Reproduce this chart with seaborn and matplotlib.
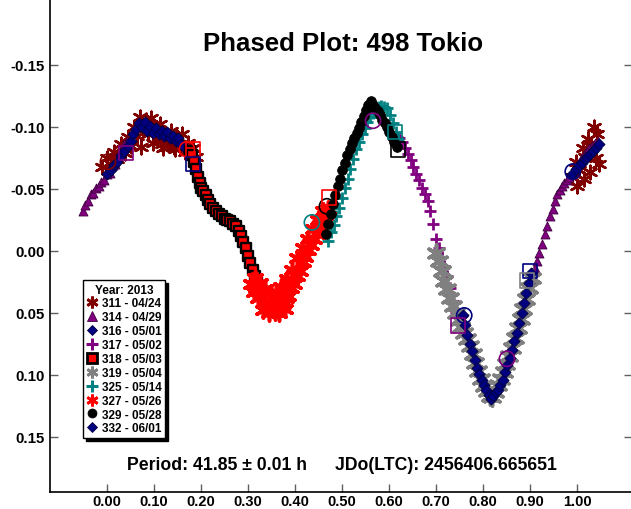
import matplotlib
matplotlib.use("Agg")
import matplotlib.pyplot as plt
import seaborn as sns
from matplotlib.lines import Line2D

sns.set_style("white")
plt.rcParams['font.family'] = ['Liberation Sans', 'DejaVu Sans']
plt.rcParams['font.weight'] = 'bold'
plt.rcParams['axes.unicode_minus'] = False
plt.rcParams['text.color'] = 'black'
plt.rcParams['xtick.color'] = 'black'
plt.rcParams['ytick.color'] = 'black'

title = "Phased Plot: 498 Tokio"
period_text = "Period: 41.85 \u00b1 0.01 h"
epoch_text = "JDo(LTC): 2456406.665651"
legend_title = "Year: 2013"
session_labels = ["311 - 04/24", "314 - 04/29", "316 - 05/01", "317 - 05/02", "318 - 05/03",
                  "319 - 05/04", "325 - 05/14", "327 - 05/26", "329 - 05/28", "332 - 06/01"]
x_ticks = [0.0, 0.1, 0.2, 0.3, 0.4, 0.5, 0.6, 0.7, 0.8, 0.9, 1.0]
y_ticks = [-0.15, -0.10, -0.05, 0.00, 0.05, 0.10, 0.15]

phase_311 = [-0.010, 0.000, 0.008, 0.015, 0.022, 0.030, 0.038, 0.045, 0.052, 0.058, 0.064, 0.070,
             0.076, 0.082, 0.088, 0.094, 0.100, 0.106, 0.112, 0.118, 0.124, 0.130, 0.136, 0.142,
             0.148, 0.154, 0.160, 0.166, 0.172, 0.178, 0.184, 0.190, 0.072, 0.098, 0.120, 0.145,
             0.990, 0.998, 1.005, 1.012, 1.018, 1.024, 1.030, 1.036, 1.042, 1.047, 1.000, 1.015,
             1.028, 1.040]
mag_311 = [-0.068, -0.075, -0.070, -0.080, -0.074, -0.086, -0.079, -0.092, -0.085, -0.100, -0.093,
           -0.108, -0.098, -0.106, -0.094, -0.107, -0.099, -0.090, -0.102, -0.086, -0.095, -0.088,
           -0.097, -0.084, -0.092, -0.086, -0.094, -0.080, -0.087, -0.078, -0.083, -0.076, -0.084,
           -0.087, -0.083, -0.082,
           -0.060, -0.072, -0.065, -0.083, -0.076, -0.090, -0.085, -0.100, -0.094, -0.070, -0.052,
           -0.058, -0.064, -0.075]

phase_314 = [-0.052, -0.046, -0.040, -0.035, -0.030, -0.024, -0.018, -0.012, -0.006, 0.000, 0.006,
             0.012, 0.018, 0.024, 0.030, 0.036, 0.042,
             0.904, 0.910, 0.915, 0.920, 0.926, 0.932, 0.937, 0.942, 0.948, 0.953, 0.958, 0.963,
             0.968, 0.973, 0.978, 0.984, 0.990, 0.996, 1.002, 1.008, 1.014, 1.020, 1.026, 1.032,
             1.038, 1.044]
mag_314 = [-0.032, -0.037, -0.040, -0.046, -0.047, -0.051, -0.052, -0.056, -0.057, -0.062, -0.063,
           -0.069, -0.070, -0.076, -0.079, -0.086, -0.089,
           0.021, 0.014, 0.008, 0.002, -0.006, -0.014, -0.020, -0.028, -0.034, -0.040, -0.046,
           -0.049, -0.052, -0.055, -0.057, -0.060, -0.063, -0.067, -0.070, -0.074, -0.077, -0.080,
           -0.083, -0.085, -0.087, -0.089]

phase_316 = [0.000, 0.008, 0.015, 0.022, 0.030, 0.037, 0.044, 0.050, 0.056, 0.062, 0.068, 0.074,
             0.080, 0.086, 0.092, 0.098, 0.104, 0.110, 0.116, 0.122, 0.128, 0.134, 0.140, 0.146,
             0.152, 0.158, 0.164,
             0.990, 0.998, 1.004, 1.010, 1.016, 1.022, 1.028, 1.034, 1.040, 1.046]
mag_316 = [-0.062, -0.065, -0.069, -0.072, -0.077, -0.081, -0.085, -0.089, -0.094, -0.098, -0.103,
           -0.100, -0.104, -0.097, -0.101, -0.095, -0.099, -0.094, -0.097, -0.093, -0.096, -0.091,
           -0.093, -0.089, -0.091, -0.086, -0.084,
           -0.062, -0.066, -0.069, -0.071, -0.074, -0.076, -0.078, -0.081, -0.083, -0.086]

phase_317 = [0.615, 0.622, 0.628, 0.634, 0.640, 0.646, 0.652, 0.658, 0.664, 0.670, 0.676, 0.682,
             0.688, 0.694, 0.700, 0.706, 0.712, 0.718, 0.724, 0.730, 0.736, 0.742]
mag_317 = [-0.093, -0.091, -0.088, -0.083, -0.078, -0.073, -0.068, -0.062, -0.057, -0.051, -0.046,
           -0.040, -0.032, -0.022, -0.010, -0.002, 0.005, 0.012, 0.020, 0.030, 0.040, 0.050]

phase_318 = [0.177, 0.181, 0.185, 0.189, 0.193, 0.197, 0.201, 0.205, 0.210, 0.215, 0.220, 0.226,
             0.232, 0.238, 0.244, 0.250, 0.256, 0.262, 0.268, 0.274, 0.280, 0.285, 0.290, 0.295,
             0.300, 0.305, 0.310, 0.315, 0.320]
mag_318 = [-0.081, -0.077, -0.072, -0.066, -0.060, -0.055, -0.051, -0.048, -0.045, -0.041, -0.038,
           -0.035, -0.032, -0.030, -0.028, -0.026, -0.025, -0.024, -0.022, -0.020, -0.016, -0.012,
           -0.007, -0.002, 0.004, 0.010, 0.015, 0.020, 0.025]

phase_319 = [0.700, 0.706, 0.712, 0.718, 0.724, 0.730, 0.736, 0.742, 0.748, 0.754, 0.760, 0.766,
             0.772, 0.778, 0.784, 0.790, 0.796, 0.802, 0.808, 0.814, 0.820, 0.826, 0.832, 0.838,
             0.844, 0.850, 0.856, 0.862, 0.868, 0.874, 0.880, 0.886, 0.892, 0.898, 0.904]
mag_319 = [0.002, 0.008, 0.016, 0.024, 0.031, 0.038, 0.044, 0.050, 0.056, 0.061, 0.066, 0.071,
           0.077, 0.083, 0.090, 0.097, 0.103, 0.109, 0.113, 0.117, 0.118, 0.114, 0.108, 0.103,
           0.098, 0.091, 0.085, 0.078, 0.070, 0.062, 0.055, 0.047, 0.039, 0.030, 0.022]

phase_325 = [0.470, 0.476, 0.482, 0.488, 0.494, 0.500, 0.506, 0.512, 0.518, 0.524, 0.530, 0.536,
             0.542, 0.548, 0.554, 0.560, 0.566, 0.572, 0.578, 0.584, 0.590, 0.596, 0.602, 0.608,
             0.614, 0.620]
mag_325 = [-0.008, -0.015, -0.021, -0.028, -0.035, -0.043, -0.051, -0.058, -0.066, -0.074, -0.082,
           -0.088, -0.094, -0.099, -0.104, -0.108, -0.111, -0.114, -0.116, -0.117, -0.116, -0.115,
           -0.110, -0.103, -0.096, -0.090]

phase_327 = [0.306, 0.312, 0.318, 0.322, 0.328, 0.333, 0.338, 0.343, 0.348, 0.353, 0.358, 0.363,
             0.368, 0.374, 0.380, 0.386, 0.392, 0.398, 0.404, 0.410, 0.416, 0.422, 0.428, 0.434,
             0.440, 0.446, 0.452, 0.458, 0.464, 0.470,
             0.314, 0.326, 0.337, 0.349, 0.360, 0.371, 0.383, 0.394, 0.405, 0.416, 0.427, 0.438,
             0.449, 0.460, 0.331, 0.345, 0.357, 0.366, 0.378]
mag_327 = [0.027, 0.033, 0.030, 0.038, 0.036, 0.042, 0.040, 0.046, 0.043, 0.047, 0.045, 0.046,
           0.042, 0.043, 0.038, 0.036, 0.030, 0.027, 0.020, 0.016, 0.009, 0.005, -0.001, -0.005,
           -0.010, -0.014, -0.019, -0.024, -0.029, -0.034,
           0.022, 0.026, 0.031, 0.034, 0.033, 0.029, 0.023, 0.015, 0.006, -0.002, -0.010, -0.018,
           -0.025, -0.032, 0.048, 0.050, 0.049, 0.050, 0.047]

phase_329 = [0.466, 0.471, 0.476, 0.481, 0.486, 0.491, 0.496, 0.501, 0.506, 0.511, 0.516, 0.521,
             0.526, 0.531, 0.536, 0.541, 0.546, 0.551, 0.556, 0.561, 0.566, 0.571, 0.576, 0.581,
             0.586, 0.591, 0.596, 0.601, 0.606, 0.611, 0.616]
mag_329 = [-0.014, -0.022, -0.030, -0.038, -0.045, -0.052, -0.058, -0.065, -0.071, -0.077, -0.082,
           -0.087, -0.091, -0.095, -0.099, -0.104, -0.109, -0.114, -0.118, -0.121, -0.118, -0.115,
           -0.113, -0.110, -0.106, -0.103, -0.100, -0.096, -0.092, -0.088, -0.084]

phase_332 = [0.757, 0.762, 0.767, 0.772, 0.777, 0.782, 0.787, 0.792, 0.797, 0.802, 0.807, 0.812,
             0.817, 0.822, 0.827, 0.832, 0.837, 0.842, 0.847, 0.852, 0.857, 0.862, 0.867, 0.872,
             0.877, 0.882, 0.887, 0.892, 0.897, 0.902]
mag_332 = [0.052, 0.060, 0.068, 0.075, 0.081, 0.088, 0.094, 0.099, 0.104, 0.108, 0.112, 0.116,
           0.119, 0.117, 0.114, 0.112, 0.108, 0.104, 0.098, 0.092, 0.086, 0.080, 0.073, 0.066,
           0.058, 0.050, 0.042, 0.034, 0.026, 0.018]

# hollow session markers
ring_phase = [0.002, 0.170, 0.436, 0.468, 0.566, 0.760, 0.851, 0.991]
ring_mag = [-0.072, -0.082, -0.023, -0.036, -0.105, 0.052, 0.087, -0.064]
ring_session = ["311 - 04/24", "327 - 05/26", "325 - 05/14", "329 - 05/28", "317 - 05/02",
                "316 - 05/01", "317 - 05/02", "316 - 05/01"]
box_phase = [0.040, 0.183, 0.183, 0.472, 0.613, 0.619, 0.747, 0.900, 0.894]
box_mag = [-0.079, -0.082, -0.070, -0.043, -0.096, -0.082, 0.060, 0.016, 0.024]
box_session = ["314 - 04/29", "327 - 05/26", "316 - 05/01", "327 - 05/26", "325 - 05/14",
               "329 - 05/28", "317 - 05/02", "316 - 05/01", "319 - 05/04"]

phases = [phase_311, phase_314, phase_316, phase_317, phase_318, phase_319, phase_325,
          phase_327, phase_329, phase_332]
mags = [mag_311, mag_314, mag_316, mag_317, mag_318, mag_319, mag_325, mag_327, mag_329, mag_332]

asterisk = (6, 2, 0)
styles = {
    "311 - 04/24": dict(marker=asterisk, color="#800000", s=95, lw=1.8, ec=None, ms=8.5, mew=2.0),
    "314 - 04/29": dict(marker="^", color="#800080", s=42, lw=0.6, ec="#400040", ms=7.5, mew=0.6),
    "316 - 05/01": dict(marker="D", color="#000080", s=32, lw=0.6, ec="#000040", ms=5.5, mew=0.6),
    "317 - 05/02": dict(marker="+", color="#800080", s=70, lw=2.0, ec=None, ms=8.5, mew=2.2),
    "318 - 05/03": dict(marker="s", color="#FF0000", s=62, lw=1.7, ec="black", ms=7, mew=2.0),
    "319 - 05/04": dict(marker=asterisk, color="#808080", s=150, lw=2.6, ec=None, ms=8.5, mew=2.0),
    "325 - 05/14": dict(marker="+", color="#008080", s=70, lw=2.0, ec=None, ms=8.5, mew=2.2),
    "327 - 05/26": dict(marker=asterisk, color="#FF0000", s=115, lw=2.6, ec=None, ms=8.5, mew=2.0),
    "329 - 05/28": dict(marker="o", color="black", s=50, lw=0.5, ec="black", ms=6.5, mew=0.5),
    "332 - 06/01": dict(marker="D", color="#000080", s=32, lw=0.6, ec="#000040", ms=5.5, mew=0.6),
}

W, H = 631, 510
fig = plt.figure(figsize=(W / 100, H / 100), dpi=100)
ax = fig.add_axes([50 / W, 17 / H, 582.3 / W, 498.1 / H])

for lab, ph, mg in zip(session_labels, phases, mags):
    st = styles[lab]
    kw = dict(x=ph, y=mg, ax=ax, marker=st["marker"], color=st["color"], s=st["s"],
              linewidth=st["lw"], legend=False)
    if st["ec"] is not None:
        kw["edgecolor"] = st["ec"]
    sns.scatterplot(**kw)

for ph, mg, lab in zip(ring_phase, ring_mag, ring_session):
    c = styles[lab]["color"]
    sns.scatterplot(x=[ph], y=[mg], ax=ax, marker="o", s=120, color=c, facecolor="none",
                    edgecolor=c, linewidth=1.2, legend=False, zorder=5)
for ph, mg, lab in zip(box_phase, box_mag, box_session):
    c = styles[lab]["color"]
    sns.scatterplot(x=[ph], y=[mg], ax=ax, marker="s", s=110, color=c, facecolor="none",
                    edgecolor=c, linewidth=1.2, legend=False, zorder=5)

ax.set_xlim(-0.1213, 1.1177)
ax.set_ylim(0.1944, -0.2073)
ax.set_xticks(x_ticks)
ax.set_yticks(y_ticks)
ax.set_xticklabels([f"{t:.2f}" for t in x_ticks])
ax.set_yticklabels([f"{t:.2f}" for t in y_ticks])
ax.set_xlabel("")
ax.set_ylabel("")
ax.tick_params(axis="both", direction="in", length=5.5, width=1.0, color="#606060",
               labelsize=10.8, labelcolor="black")
ax.tick_params(axis="y", pad=4, right=True, left=True)
ax.tick_params(axis="x", pad=1.5, top=False, bottom=True, labelsize=10.5)
for lab in ax.get_xticklabels() + ax.get_yticklabels():
    lab.set_fontweight("bold")
ax.spines["top"].set_visible(False)
for sp in ("left", "bottom", "right"):
    ax.spines[sp].set_color("black")
    ax.spines[sp].set_linewidth(1.2)

fig.text(343 / W, 1 - 44 / H, title, ha="center", va="center", fontsize=18.5,
         fontweight="bold", color="black")
fig.text(127 / W, 1 - 466 / H, period_text, ha="left", va="center", fontsize=12.7,
         fontweight="bold", color="black")
fig.text(335 / W, 1 - 466 / H, epoch_text, ha="left", va="center", fontsize=12.7,
         fontweight="bold", color="black")

handles = []
for lab in session_labels:
    st = styles[lab]
    mec = st["ec"] if st["ec"] is not None else st["color"]
    handles.append(Line2D([], [], linestyle="none", marker=st["marker"], markersize=st["ms"],
                          markerfacecolor=st["color"], markeredgecolor=mec,
                          markeredgewidth=st["mew"], label=lab))
leg = ax.legend(handles=handles, title=legend_title, loc="lower left",
                bbox_to_anchor=(83 / W, 71 / H), bbox_transform=fig.transFigure,
                borderaxespad=0, fontsize=8.5, title_fontsize=8.5, frameon=True,
                fancybox=False, framealpha=1, edgecolor="black",
                shadow={"color": "black", "alpha": 1}, labelspacing=0.16,
                handlelength=0.9, handletextpad=0.4, borderpad=0.3)
leg.get_frame().set_linewidth(1.0)
leg.get_title().set_fontweight("bold")
leg.get_title().set_color("black")
for t in leg.get_texts():
    t.set_fontweight("bold")
    t.set_color("black")
leg.set_zorder(10)

fig.savefig("out.png", dpi=100)
